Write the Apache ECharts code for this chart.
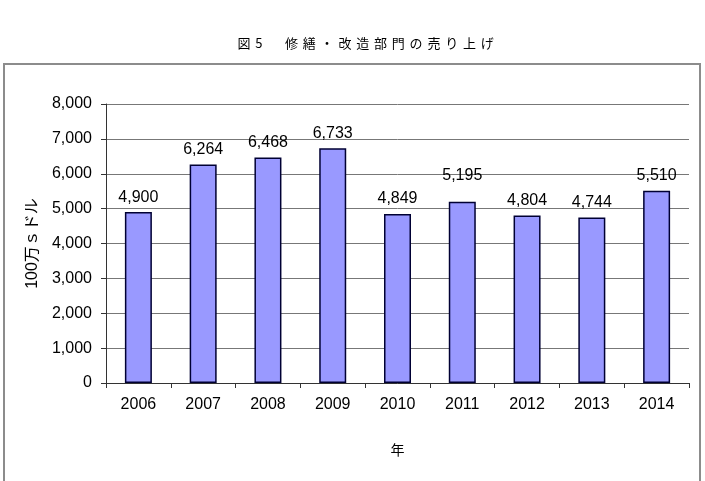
<!DOCTYPE html>
<html><head><meta charset="utf-8">
<script src="https://cdn.jsdelivr.net/npm/echarts@6/dist/echarts.min.js"></script>
<style>html,body{margin:0;padding:0;background:#fff}#c{width:705px;height:481px}</style>
</head><body><div id="c"></div>
<script>
var titleText = "図5　修繕・改造部門の売り上げ";
var categories = ["2006","2007","2008","2009","2010","2011","2012","2013","2014"];
var sales = [4900, 6264, 6468, 6733, 4849, 5195, 4804, 4744, 5510];
var yAxisName = "100万ｓドル";
var xAxisName = "年";

var numFont = "'Liberation Sans', Arial, sans-serif";
var chart = echarts.init(document.getElementById('c'));
var dataItems = sales.map(function(v, i){
  return i === 5 ? {value: v, label: {offset: [0, -11]}} : v;
});
var titleRich = Array.from(titleText).map(function(ch){ return '{c|' + ch + '}'; }).join('');
chart.setOption({
  animation: false,
  title: {text: titleRich, left: 230, top: 32,
    textStyle: {fontSize: 13, fontWeight: 'normal', color: '#000', fontFamily: 'Noto Sans CJK JP',
      rich: {c: {fontSize: 13, color: '#000', fontFamily: 'Noto Sans CJK JP', padding: [0, 2.4, 0, 2.4]}}}},
  graphic: [{type: 'rect', shape: {x: 4, y: 64, width: 696, height: 430},
    style: {fill: 'none', stroke: '#8c8c8c', lineWidth: 2}, silent: true}],
  grid: {left: 106, right: 16, top: 104, bottom: 98},
  xAxis: {type: 'category', data: categories,
    name: xAxisName, nameLocation: 'middle', nameGap: 60,
    nameTextStyle: {fontSize: 14, color: '#000', fontFamily: 'Noto Sans CJK JP'},
    axisLine: {lineStyle: {color: '#333', width: 1}},
    axisTick: {show: true, length: 5, lineStyle: {color: '#333'}},
    axisLabel: {fontSize: 16, color: '#000', margin: 14, fontFamily: numFont}},
  yAxis: {type: 'value', min: 0, max: 8000, interval: 1000,
    name: yAxisName, nameLocation: 'middle', nameGap: 58, nameRotate: 90,
    nameTextStyle: {fontSize: 16, color: '#000', fontFamily: "'Liberation Sans', 'Noto Sans CJK JP'"},
    axisLine: {show: true, lineStyle: {color: '#333'}},
    axisTick: {show: true, length: 5, inside: false, lineStyle: {color: '#333'}},
    axisLabel: {fontSize: 16, color: '#000', margin: 14, fontFamily: numFont,
      formatter: function(v){ return v.toLocaleString('en-US'); }},
    splitLine: {lineStyle: {color: '#777', width: 1}}},
  series: [{type: 'bar', data: dataItems, barWidth: 27,
    itemStyle: {color: '#9999ff', borderColor: '#000033', borderWidth: 1.5},
    label: {show: true, position: 'top', distance: 7, fontSize: 16, color: '#000',
      fontFamily: numFont,
      formatter: function(p){ return p.value.toLocaleString('en-US'); }}}]
});
</script></body></html>
